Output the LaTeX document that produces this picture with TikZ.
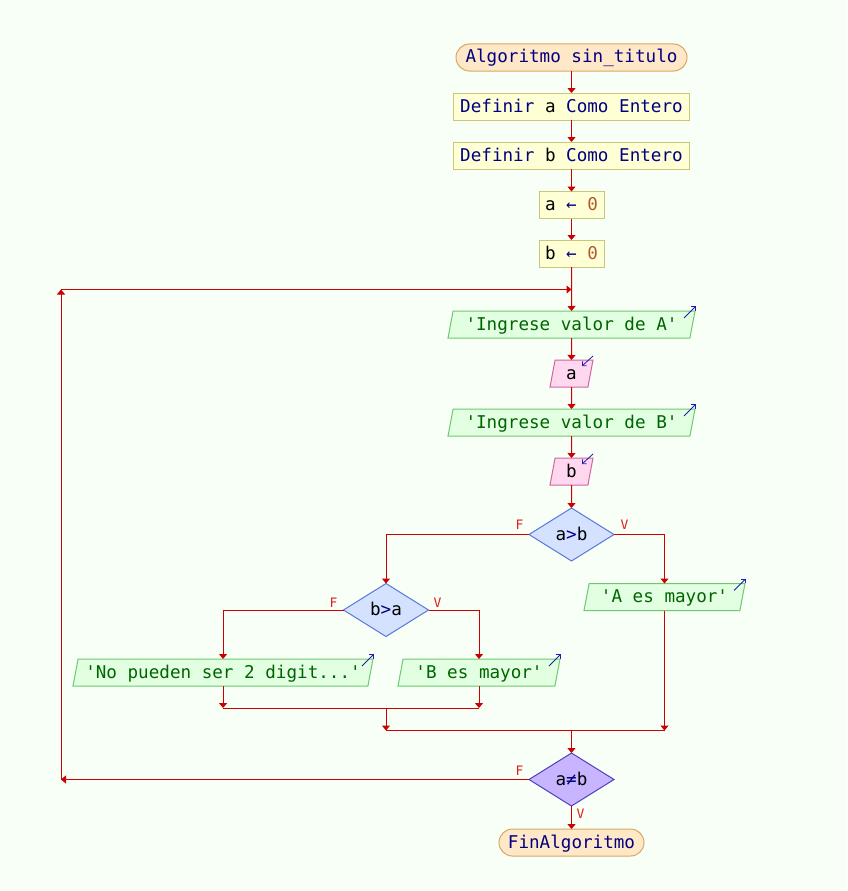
\documentclass[tikz,border=0pt]{standalone}
\usepackage{fontspec}
\setmonofont{DejaVu Sans Mono}
\usetikzlibrary{shapes.geometric,arrows.meta}
\definecolor{bg}{RGB}{247,255,247}
\definecolor{lred}{RGB}{204,0,0}
\definecolor{lblred}{RGB}{224,30,30}
\definecolor{kw}{RGB}{0,0,128}
\definecolor{strc}{RGB}{0,100,0}
\definecolor{numc}{RGB}{176,90,48}
\definecolor{termfill}{RGB}{255,232,200}
\definecolor{termdraw}{RGB}{216,168,96}
\definecolor{procfill}{RGB}{255,255,214}
\definecolor{procdraw}{RGB}{200,200,120}
\definecolor{outfill}{RGB}{226,255,226}
\definecolor{outdraw}{RGB}{110,200,110}
\definecolor{infill}{RGB}{255,216,240}
\definecolor{indraw}{RGB}{210,100,160}
\definecolor{decfill}{RGB}{212,226,255}
\definecolor{decdraw}{RGB}{90,120,216}
\definecolor{loopfill}{RGB}{200,180,255}
\definecolor{loopdraw}{RGB}{80,64,192}
\definecolor{iconc}{RGB}{30,30,170}
\newcommand{\kwd}[1]{\textcolor{kw}{#1}}
\begin{document}
\begin{tikzpicture}[x=1pt,y=-1pt,
  base/.style={font=\ttfamily\fontsize{17.6}{20}\selectfont, inner sep=0pt, outer sep=0pt,
    line width=1pt, text height=12.5pt, text depth=1.5pt, align=center},
  term/.style={base, rectangle, rounded corners=13.5pt, fill=termfill, draw=termdraw, text=kw, minimum height=27pt},
  proc/.style={base, rectangle, fill=procfill, draw=procdraw, minimum height=27pt},
  outbox/.style={base, trapezium, trapezium left angle=70, trapezium right angle=110,
    trapezium stretches body, fill=outfill, draw=outdraw, text=strc, minimum height=27pt},
  inbox/.style={base, trapezium, trapezium left angle=70, trapezium right angle=110,
    trapezium stretches body, fill=infill, draw=indraw, text=black, minimum height=27pt},
  dec/.style={base, diamond, aspect=1.6, fill=decfill, draw=decdraw, minimum width=85pt, minimum height=53pt},
  loopdec/.style={dec, fill=loopfill, draw=loopdraw},
  flow/.style={draw=lred, line width=1pt, -{Triangle[width=8pt,length=5pt]}},
  plain/.style={draw=lred, line width=1pt},
  lbl/.style={font=\ttfamily\fontsize{13}{15}\selectfont, text=lblred, inner sep=0pt},
  iconarrow/.style={draw=iconc, line width=0.8pt, -{Straight Barb[length=3pt,width=6pt]}}
]
\fill[bg] (0,0) rectangle (847,891);
\useasboundingbox (0,0) rectangle (847,891);

\node[term, minimum width=231pt] (start) at (571.5,57.5) {Algoritmo sin\_titulo};
\node[proc, minimum width=236pt] (defa) at (571.5,106.5) {\kwd{Definir} a \kwd{Como} \kwd{Entero}};
\node[proc, minimum width=236pt] (defb) at (571.5,155.5) {\kwd{Definir} b \kwd{Como} \kwd{Entero}};
\node[proc, minimum width=65pt] (a0) at (571.5,205) {a \kwd{←} \textcolor{numc}{0}};
\node[proc, minimum width=65pt] (b0) at (571.5,253.5) {b \kwd{←} \textcolor{numc}{0}};
\coordinate (loopjoin) at (571.5,289.5);
\node[outbox, minimum width=247pt] (inA) at (571.5,324.5) {'Ingrese valor de A'};
\node[inbox, minimum width=43pt] (ia) at (571.5,373.5) {a};
\node[outbox, minimum width=247pt] (inB) at (571.5,422.5) {'Ingrese valor de B'};
\node[inbox, minimum width=43pt] (ib) at (571.5,471.5) {b};
\node[dec] (c1) at (571.5,534.5) {a\kwd{>}b};
\node[outbox, minimum width=161pt] (oA) at (664.5,597) {'A es mayor'};
\node[dec] (c2) at (386,610) {b\kwd{>}a};
\node[outbox, minimum width=300pt] (oNo) at (223,672.5) {'No pueden ser 2 digit...'};
\node[outbox, minimum width=162pt] (oB) at (479,672.5) {'B es mayor'};
\coordinate (j1) at (386,708);
\coordinate (j2) at (571.5,730.5);
\node[loopdec] (c3) at (571.5,779.5) {a\kwd{≠}b};
\node[term, minimum width=145pt] (fin) at (571.5,842.5) {FinAlgoritmo};
\coordinate (lpB) at (61,779.5);
\coordinate (lpT) at (61,289.5);

% icons
\foreach \n in {inA,inB,oA,oNo,oB}{
  \draw[iconarrow] ([shift={(-11,7)}]\n.top right corner) -- ([shift={(1,-5)}]\n.top right corner);
}
\foreach \n in {ia,ib}{
  \draw[iconarrow] ([shift={(0,-4)}]\n.top right corner) -- ([shift={(-11,6)}]\n.top right corner);
}

% connectors
\draw[flow] (start) -- (defa);
\draw[flow] (defa) -- (defb);
\draw[flow] (defb) -- (a0);
\draw[flow] (a0) -- (b0);
\draw[flow] (b0) -- (inA.north);
\draw[flow] (inA.south) -- (ia.north);
\draw[flow] (ia.south) -- (inB.north);
\draw[flow] (inB.south) -- (ib.north);
\draw[flow] (ib.south) -- (c1.north);
\draw[flow] (c1.west) -| (c2.north);
\draw[flow] (c1.east) -| (oA.north);
\draw[flow] (c2.west) -| (oNo.north);
\draw[flow] (c2.east) -| (oB.north);
\draw[flow] (oNo.south) -- (oNo.south |- j1);
\draw[flow] (oB.south) -- (oB.south |- j1);
\draw[plain] (oNo.south |- j1) -- (oB.south |- j1);
\draw[flow] (j1) -- (j1 |- j2);
\draw[flow] (oA.south) -- (oA.south |- j2);
\draw[plain] (j1 |- j2) -- (oA.south |- j2);
\draw[flow] (j2) -- (c3.north);
\draw[flow] (c3.west) -- (lpB);
\draw[flow] (lpB) -- (lpT);
\draw[flow] (lpT) -- (loopjoin);
\draw[flow] (c3.south) -- (fin.north);

% labels
\node[lbl] (lF1) at (519.5,524.5) {F};
\node[lbl] (lV1) at (624.5,524.5) {V};
\node[lbl] (lF2) at (333.5,602.5) {F};
\node[lbl] (lV2) at (437.5,602.5) {V};
\node[lbl] (lF3) at (519.5,770.5) {F};
\node[lbl] (lV3) at (580.5,813.5) {V};
\end{tikzpicture}
\end{document}
